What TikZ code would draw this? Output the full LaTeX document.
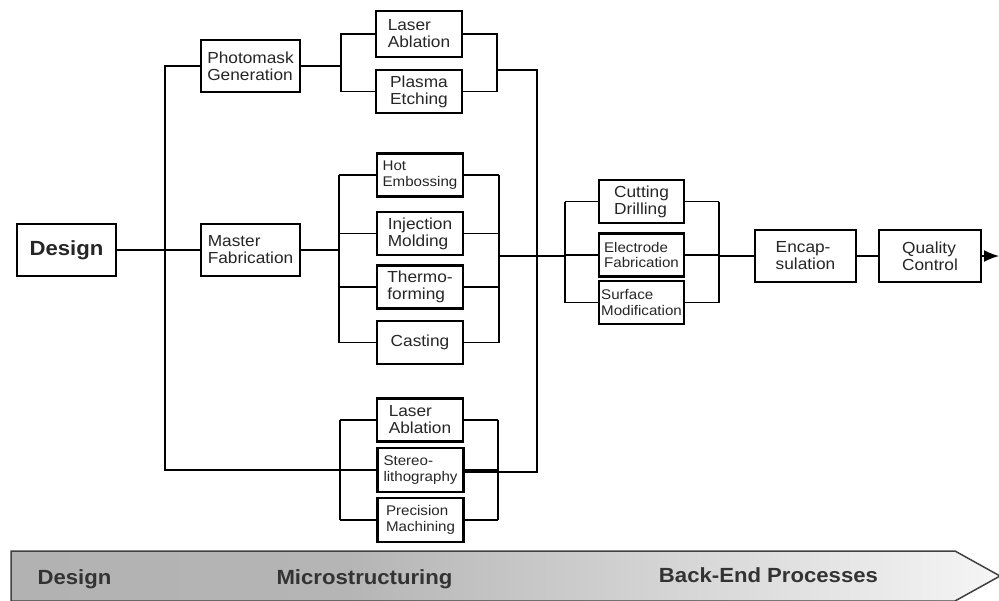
\documentclass[tikz,border=0pt]{standalone}
\usepackage{fontspec}
\setmainfont{Liberation Sans}[FakeStretch=1.08]
\usetikzlibrary{arrows.meta,positioning}

\pgfdeclarehorizontalshading{barfade}{100bp}{color(0bp)=(black!32); color(42bp)=(black!29); color(80bp)=(white); color(100bp)=(white)}

\begin{document}
\begin{tikzpicture}[
  x=1pt, y=-1pt,
  box/.style={draw, line width=2.2pt, align=left, inner sep=0pt,
    minimum width=86pt, minimum height=43pt, text=black!85,
    font=\fontsize{16}{17}\selectfont},
  small/.style={font=\fontsize{14}{15.5}\selectfont},
  link/.style={line width=1.6pt},
  barlabel/.style={anchor=base, inner sep=0pt, text=black!80,
    font=\bfseries\fontsize{20.5}{22}\selectfont}
]
\useasboundingbox (0,0) rectangle (999,600);
\clip (0,0) rectangle (999,600);
\fill[white] (0,0) rectangle (999,600);

% boxes
\node[box, minimum width=99pt, minimum height=52pt,
  font=\bfseries\fontsize{20.5}{22}\selectfont] (design) at (66.5,250) {Design};
\node[box, minimum width=99pt, minimum height=52pt] (photomask) at (250.5,66) {Photomask\\Generation};
\node[box, minimum width=99pt, minimum height=52pt] (master) at (250.5,250) {Master\\Fabrication};

\node[box, minimum height=46pt] (laserA) at (419,34) {Laser\\Ablation};
\node[box] (plasma) at (419,91.5) {Plasma\\Etching};

\node[box, small] (hot) at (420,175) {Hot\\Embossing};
\node[box] (injection) at (420,233.5) {Injection\\Molding};
\node[box] (thermo) at (420,287) {Thermo-\\forming};
\node[box] (casting) at (420,342.5) {Casting};

\node[box] (laserB) at (420,420) {Laser\\Ablation};
\node[box, small, minimum height=44pt] (stereo) at (420.5,470) {Stereo-\\lithography};
\node[box, small, minimum height=44pt] (precision) at (420.5,520) {Precision\\Machining};

\node[box, minimum width=85pt] (cutting) at (641.5,201.5) {Cutting\\Drilling};
\node[box, small, minimum width=85pt] (electrode) at (641.5,255) {Electrode\\Fabrication};
\node[box, small, minimum width=85pt] (surface) at (641.5,302.5) {Surface\\Modification};

\node[box, minimum width=101pt, minimum height=52pt] (encap) at (805.5,256) {Encap-\\sulation};
\node[box, minimum width=102pt, minimum height=52pt] (quality) at (930,256) {Quality\\Control};

% junctions
\coordinate (trunkL) at (165,250);
\coordinate (trunkR) at (537,472);
\coordinate (topL) at (341,66);
\coordinate (topR) at (497,70);
\coordinate (midL) at (339,250);
\coordinate (midR) at (499,256);
\coordinate (botL) at (340,470);
\coordinate (botR) at (498,470);
\coordinate (endL) at (565,256);
\coordinate (endR) at (719,256);
\coordinate (out) at (999,256);

% design to the three routes
\draw[link] (design) -- (master);
\draw[link] (photomask.west) -| (trunkL) |- (stereo.west);

% photomask route
\draw[link] (photomask) -- (topL);
\draw[link] (laserA.west) -| (topL) |- (plasma.west);
\draw[link] (laserA.east) -| (topR) |- (plasma.east);
\draw[link] (topR) -| (trunkR) -- (stereo.east |- trunkR);

% master route
\draw[link] (master) -- (midL);
\draw[link] (midL |- hot.west) -- (midL |- casting.west);
\draw[link] (midR |- hot.east) -- (midR |- casting.east);
\foreach \n in {hot,injection,thermo,casting}{
  \draw[link] (midL |- \n.west) -- (\n.west);
  \draw[link] (\n.east) -- (midR |- \n.east);
}

% direct route
\draw[link] (botL |- laserB.west) -- (botL |- precision.west);
\draw[link] (botR |- laserB.east) -- (botR |- precision.east);
\foreach \n in {laserB,stereo,precision}{
  \draw[link] (botL |- \n.west) -- (\n.west);
  \draw[link] (\n.east) -- (botR |- \n.east);
}

% back-end
\draw[link] (midR) -- (endL);
\draw[link] (endL |- cutting.west) -- (endL |- surface.west);
\draw[link] (endR |- cutting.east) -- (endR |- surface.east);
\foreach \n in {cutting,electrode,surface}{
  \draw[link] (endL |- \n.west) -- (\n.west);
  \draw[link] (\n.east) -- (endR |- \n.east);
}
\draw[link] (endR) -- (encap);
\draw[link] (encap) -- (quality);
\draw[link, -{Latex[length=15pt,width=12pt]}] (quality) -- (out);

% phase bar
\path[draw=black!75, line width=1.5pt, shading=barfade]
  (11,551) -- (955,551) -- (1000,576) -- (955,601) -- (11,601) -- cycle;
\node[barlabel] (phDesign) at (74.5,584) {Design};
\node[barlabel] (phMicro) at (364.5,584) {Microstructuring};
\node[barlabel] (phBack) at (768.5,582) {Back-End Processes};
\end{tikzpicture}
\end{document}
